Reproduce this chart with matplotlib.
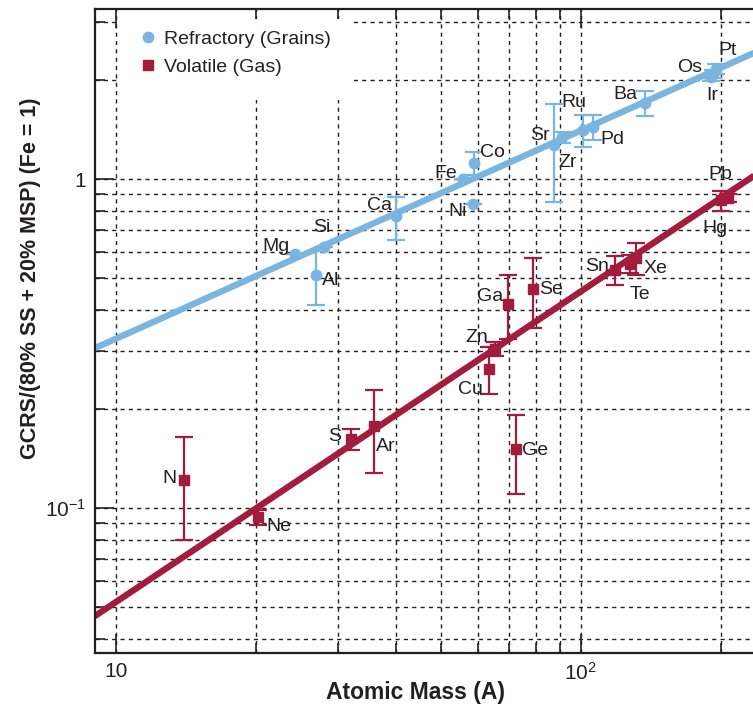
import numpy as np
import matplotlib
matplotlib.use("Agg")
import matplotlib.pyplot as plt
from matplotlib.lines import Line2D
from matplotlib.patches import Rectangle
from matplotlib.ticker import FixedLocator, FixedFormatter

# ---- data -------------------------------------------------------------
# Refractory elements (grains)
ref_names = ["Mg", "Al", "Si", "Ca", "Fe", "Co", "Ni", "Sr", "Zr", "Ru",
             "Pd", "Ba", "Os", "Ir", "Pt"]
ref_mass = [24.31, 26.98, 28.09, 40.08, 55.85, 58.93, 58.69, 87.62, 91.22,
            101.07, 106.42, 137.33, 190.23, 192.22, 195.08]
ref_ratio = [0.59, 0.51, 0.62, 0.77, 1.00, 1.12, 0.84, 1.27, 1.34, 1.41,
             1.44, 1.70, 2.04, 2.09, 2.16]
ref_err = [0.0, 0.095, 0.0, 0.115, 0.0, 0.09, 0.0, 0.42, 0.05, 0.16,
           0.13, 0.15, 0.05, 0.06, 0.07]

# Volatile elements (gas)
vol_names = ["N", "Ne", "S", "Ar", "Cu", "Zn", "Ga", "Ge", "Se", "Sn",
             "Te", "Xe", "Hg", "Pb"]
vol_mass = [14.01, 20.18, 32.06, 36.0, 63.55, 65.38, 69.72, 72.63, 78.97,
            118.71, 127.60, 131.29, 200.59, 207.2]
vol_ratio = [0.122, 0.094, 0.162, 0.178, 0.265, 0.305, 0.418, 0.151, 0.463,
             0.530, 0.552, 0.575, 0.862, 0.875]
vol_err = [0.042, 0.005, 0.012, 0.050, 0.043, 0.015, 0.092, 0.041, 0.111,
           0.055, 0.035, 0.064, 0.060, 0.025]

# Power-law fits: ratio = value_at_A10 * (A / 10) ** slope
ref_fit_slope, ref_fit_at10 = 0.633, 0.327
vol_fit_slope, vol_fit_at10 = 0.944, 0.0518

x_major = [10, 100]
x_major_labels = ["10", "$10^2$"]
x_minor = [20, 30, 40, 50, 60, 70, 80, 90, 200]
y_major = [0.1, 1]
y_major_labels = ["$10^{-1}$", "1"]
y_minor = [0.04, 0.05, 0.06, 0.07, 0.08, 0.09,
           0.2, 0.3, 0.4, 0.5, 0.6, 0.7, 0.8, 0.9, 2, 3]

# label offsets (pixels: right, up) from each point
ref_label_off = {"Mg": (-19, 8), "Al": (14, -5), "Si": (-3, 20), "Ca": (-17, 11),
                 "Fe": (-17, 6), "Co": (18, 10), "Ni": (-16, -8), "Sr": (-14, 9),
                 "Zr": (5, -25), "Ru": (-9, 27), "Pd": (19, -13), "Ba": (-19, 9),
                 "Os": (-21, 10), "Ir": (0, -22), "Pt": (12, 18)}
vol_label_off = {"N": (-14, 1), "Ne": (21, -10), "S": (-16, 3), "Ar": (11, -21),
                 "Cu": (-19, -21), "Zn": (-18, 11), "Ga": (-18, 7), "Se": (18, 0),
                 "Ge": (19, -1), "Sn": (-18, 3), "Te": (10, -31), "Xe": (20, -10),
                 "Hg": (-6, -28), "Pb": (-8, 24)}

# ---- style ------------------------------------------------------------
plt.rcParams["font.family"] = ["Liberation Sans", "DejaVu Sans"]
plt.rcParams["mathtext.fontset"] = "custom"
plt.rcParams["mathtext.rm"] = "Liberation Sans"
plt.rcParams["mathtext.it"] = "Liberation Sans"
plt.rcParams["mathtext.default"] = "regular"

BLUE = "#7ab5e2"
RED = "#a31c3d"
INK = "#231f20"
W, H = 753, 704

fig = plt.figure(figsize=(W / 100, H / 100), dpi=100)
ax_left, ax_top, ax_bottom = 94.5, 9.3, 653.3
xlim = (9.0, 240.0)
ylim = (0.0362, 3.28)
decade_x = 465.0
ax_w = np.log10(xlim[1] / xlim[0]) * decade_x
ax = fig.add_axes([ax_left / W, 1 - ax_bottom / H, ax_w / W, (ax_bottom - ax_top) / H])
ax.set_xscale("log")
ax.set_yscale("log")
ax.set_xlim(*xlim)
ax.set_ylim(*ylim)

ax.xaxis.set_major_locator(FixedLocator(x_major))
ax.xaxis.set_major_formatter(FixedFormatter(x_major_labels))
ax.xaxis.set_minor_locator(FixedLocator(x_minor))
ax.xaxis.set_minor_formatter(FixedFormatter([""] * len(x_minor)))
ax.yaxis.set_major_locator(FixedLocator(y_major))
ax.yaxis.set_major_formatter(FixedFormatter(y_major_labels))
ax.yaxis.set_minor_locator(FixedLocator(y_minor))
ax.yaxis.set_minor_formatter(FixedFormatter([""] * len(y_minor)))

ax.set_axisbelow(True)
ax.grid(which="both", color=INK, linestyle=(0, (3, 3)), linewidth=1.0)
ax.tick_params(which="both", direction="in", top=True, right=False,
               width=1.2, color=INK, labelcolor=INK, labelsize=15)
ax.tick_params(which="major", length=14, pad=6)
ax.tick_params(which="minor", length=7.5)
for side in ("left", "bottom", "top"):
    ax.spines[side].set_linewidth(1.6)
    ax.spines[side].set_color(INK)
ax.spines["right"].set_visible(False)

# white panel behind the legend
ax.add_patch(Rectangle((120 / W, 1 - 100 / H), (353 - 120) / W, (100 - 19.5) / H,
                       transform=fig.transFigure, facecolor="white",
                       edgecolor="none", zorder=1, clip_on=False))

# fit lines
fit_x = np.geomspace(xlim[0], xlim[1], 50)
ax.plot(fit_x, ref_fit_at10 * (fit_x / 10) ** ref_fit_slope, color=BLUE,
        lw=4.6, solid_capstyle="butt", zorder=2)
ax.plot(fit_x, vol_fit_at10 * (fit_x / 10) ** vol_fit_slope, color=RED,
        lw=4.6, solid_capstyle="butt", zorder=2)

# data points with error bars
ax.errorbar(ref_mass, ref_ratio, yerr=ref_err, fmt="o", color=BLUE, ms=7.5,
            elinewidth=1.6, capsize=6.5, capthick=1.6, zorder=3)
ax.errorbar(vol_mass, vol_ratio, yerr=vol_err, fmt="s", color=RED, ms=7.5,
            elinewidth=1.6, capsize=6.5, capthick=1.6, zorder=3)

# element labels
px2pt = 72 / 100
for names, xs, ys, offs in ((ref_names, ref_mass, ref_ratio, ref_label_off),
                            (vol_names, vol_mass, vol_ratio, vol_label_off)):
    for n, xv, yv in zip(names, xs, ys):
        dx, dy = offs[n]
        ax.annotate(n, (xv, yv), xytext=(dx * px2pt, dy * px2pt),
                    textcoords="offset points", ha="center", va="center",
                    fontsize=14, color=INK, zorder=4)

# legend
handles = [Line2D([], [], marker="o", ls="none", color=BLUE, ms=7.5),
           Line2D([], [], marker="s", ls="none", color=RED, ms=7.0)]
ax.legend(handles, ["Refractory (Grains)", "Volatile (Gas)"],
          loc="upper left", bbox_to_anchor=(142 / W, 1 - 30 / H),
          bbox_transform=fig.transFigure, frameon=False, fontsize=14,
          handlelength=0.65, handletextpad=0.5, labelspacing=0.55,
          borderpad=0, borderaxespad=0, labelcolor=INK)

ax.set_xlabel("Atomic Mass (A)", fontsize=16.5, fontweight="bold", color=INK)
ax.set_ylabel("GCRS/(80% SS + 20% MSP) (Fe = 1)", fontsize=15.5,
              fontweight="bold", color=INK)
ax.xaxis.set_label_coords((415 - ax_left) / ax_w, -(681 - ax_bottom) / (ax_bottom - ax_top))
ax.yaxis.set_label_coords((41 - ax_left) / ax_w, (ax_bottom - 278) / (ax_bottom - ax_top))

fig.savefig("out.png", dpi=100)
